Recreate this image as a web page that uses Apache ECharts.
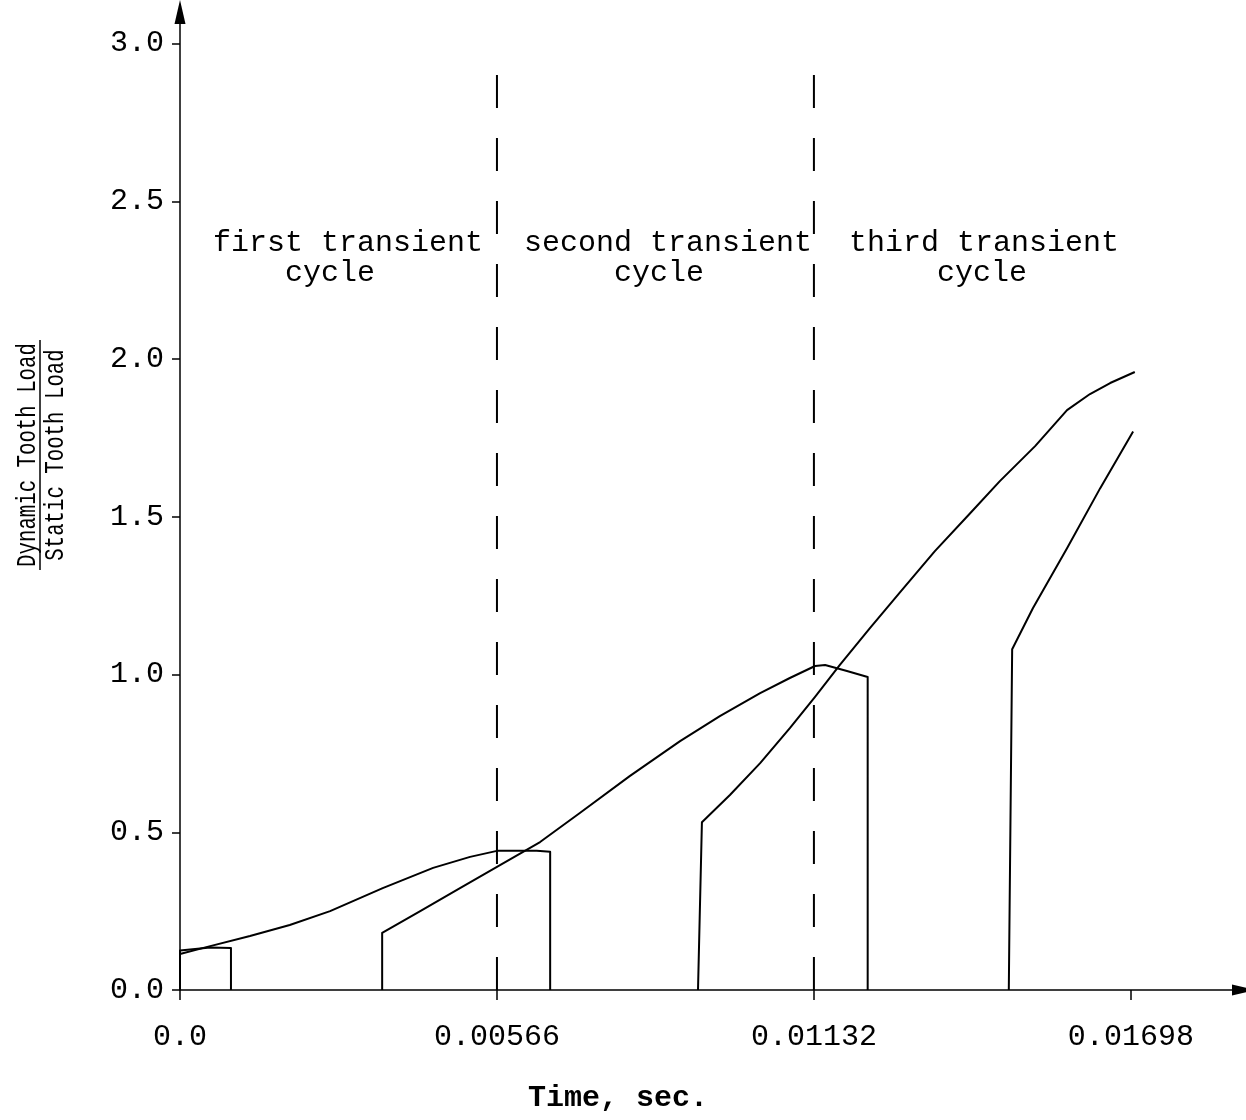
<!DOCTYPE html>
<html>
<head>
<meta charset="utf-8">
<script src="https://cdn.jsdelivr.net/npm/echarts@6/dist/echarts.min.js"></script>
<style>
html,body{margin:0;padding:0;background:#fff;}
#chart{width:1246px;height:1120px;}
</style>
</head>
<body>
<div id="chart"></div>
<script>
// ---- data ----
var xTicks = [0, 0.00566, 0.01132, 0.01698];
var xTickLabels = ['0.0', '0.00566', '0.01132', '0.01698'];
var yTicks = [0, 0.5, 1.0, 1.5, 2.0, 2.5, 3.0];
var yTickLabels = ['0.0', '0.5', '1.0', '1.5', '2.0', '2.5', '3.0'];

var dividers = [0.00566, 0.01132];
var dividerTop = 2.9;
var cycleLine1 = ['first transient', 'second transient', 'third transient'];
var cycleLine2 = ['cycle', 'cycle', 'cycle'];

// tooth load traces [time, load]
var load1 = [[0, 0], [0, 0.125], [0.00054, 0.135], [0.00091, 0.133], [0.00091, 0]];
var load2 = [[0, 0.114], [0.00054, 0.139], [0.00125, 0.171], [0.00196, 0.206], [0.00268, 0.250],
             [0.00362, 0.323], [0.00452, 0.387], [0.00518, 0.422], [0.00566, 0.441],
             [0.00637, 0.441], [0.00661, 0.438], [0.00661, 0]];
var load3 = [[0.00361, 0], [0.00361, 0.181], [0.00429, 0.250], [0.00500, 0.323], [0.00566, 0.390],
             [0.00643, 0.469], [0.00714, 0.561], [0.00803, 0.678], [0.00893, 0.789],
             [0.00964, 0.868], [0.01036, 0.941], [0.01089, 0.989], [0.01134, 1.027],
             [0.01152, 1.030], [0.01191, 1.011], [0.01228, 0.992], [0.01228, 0]];
var load4 = [[0.00925, 0], [0.00932, 0.532], [0.00982, 0.618], [0.01036, 0.719], [0.01089, 0.830],
             [0.01134, 0.929], [0.01178, 1.030], [0.01232, 1.147], [0.01286, 1.261],
             [0.01348, 1.391], [0.01411, 1.511], [0.01464, 1.613], [0.01527, 1.724],
             [0.01584, 1.838], [0.01625, 1.889], [0.01661, 1.924], [0.01705, 1.959]];
var load5 = [[0.0148, 0], [0.01486, 1.08], [0.01523, 1.21], [0.01584, 1.40], [0.01643, 1.59],
             [0.01702, 1.77]];

// ---- chart ----
var FONT = '"Liberation Mono", "DejaVu Sans Mono", monospace';
var chart = echarts.init(document.getElementById('chart'), null, {renderer: 'canvas'});

function traceSeries(data) {
  return {
    type: 'line', data: data, showSymbol: false, symbol: 'none',
    lineStyle: {color: '#000', width: 2, join: 'round'}, z: 3, silent: true
  };
}

var series = [load1, load2, load3, load4, load5].map(traceSeries);
dividers.forEach(function (d) {
  series.push({
    type: 'line', data: [[d, 0], [d, dividerTop]], showSymbol: false, symbol: 'none',
    lineStyle: {color: '#000', width: 2, type: [33, 30]}, z: 2, silent: true
  });
});

var line1X = [348, 668, 984];
var line2X = [330, 659, 982];
var graphics = [];
for (var i = 0; i < cycleLine1.length; i++) {
  graphics.push({type: 'text', x: line1X[i], y: 243, style: {text: cycleLine1[i], font: '30px ' + FONT, fill: '#000', align: 'center', verticalAlign: 'middle'}});
  graphics.push({type: 'text', x: line2X[i], y: 273, style: {text: cycleLine2[i], font: '30px ' + FONT, fill: '#000', align: 'center', verticalAlign: 'middle'}});
}
graphics.push({type: 'text', x: 618, y: 1098, style: {text: 'Time, sec.', font: 'bold 30px ' + FONT, fill: '#000', align: 'center', verticalAlign: 'middle'}});
graphics.push({
  type: 'group', x: 40, y: 455, rotation: Math.PI / 2,
  children: [
    {type: 'text', x: 0, y: -12, scaleX: 0.74, style: {text: 'Dynamic Tooth Load', font: '28px ' + FONT, fill: '#000', align: 'center', verticalAlign: 'middle'}},
    {type: 'line', shape: {x1: -115, y1: 0, x2: 115, y2: 0}, style: {stroke: '#000', lineWidth: 1.5}},
    {type: 'text', x: 0, y: 16, scaleX: 0.74, style: {text: 'Static Tooth Load', font: '28px ' + FONT, fill: '#000', align: 'center', verticalAlign: 'middle'}}
  ]
});

var option = {
  animation: false,
  backgroundColor: '#fff',
  grid: {left: 180, right: 2, top: 12, bottom: 130},
  xAxis: {
    type: 'value', min: 0, max: 0.019,
    axisLine: {show: true, onZero: false, lineStyle: {color: '#000', width: 1.5},
               symbol: ['none', 'triangle'], symbolSize: [11, 24]},
    axisTick: {show: true, length: 10, lineStyle: {color: '#000', width: 1.5}, customValues: xTicks},
    axisLabel: {
      customValues: xTicks, margin: 32, color: '#000', fontFamily: FONT, fontSize: 30,
      formatter: function (v) {
        for (var i = 0; i < xTicks.length; i++) if (Math.abs(v - xTicks[i]) < 1e-9) return xTickLabels[i];
        return '';
      }
    },
    splitLine: {show: false}
  },
  yAxis: {
    type: 'value', min: 0, max: 3.1,
    axisLine: {show: true, onZero: false, lineStyle: {color: '#000', width: 1.5},
               symbol: ['none', 'triangle'], symbolSize: [11, 24]},
    axisTick: {show: true, length: 8, lineStyle: {color: '#000', width: 1.5}, customValues: yTicks},
    axisLabel: {
      customValues: yTicks, margin: 16, color: '#000', fontFamily: FONT, fontSize: 30,
      formatter: function (v) {
        for (var i = 0; i < yTicks.length; i++) if (Math.abs(v - yTicks[i]) < 1e-9) return yTickLabels[i];
        return '';
      }
    },
    splitLine: {show: false}
  },
  graphic: graphics,
  series: series
};
chart.setOption(option);
</script>
</body>
</html>
